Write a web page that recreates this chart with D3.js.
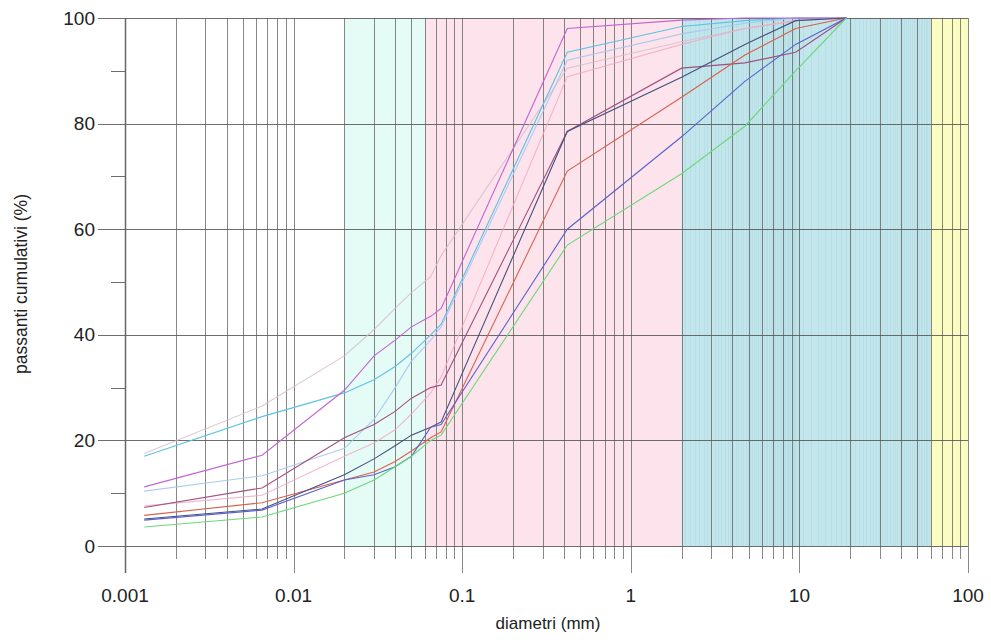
<!DOCTYPE html>
<html>
<head>
<meta charset="utf-8">
<script src="https://cdn.jsdelivr.net/npm/d3@7"></script>
<style>
  body { margin: 0; background: #fff; }
  svg { display: block; font-family: "Liberation Sans", Arial, sans-serif; }
</style>
</head>
<body>
<svg id="chart" width="991" height="642"></svg>
<script>
// sieve / hydrometer diameters (mm)
const diameters = [0.0013, 0.0065, 0.02, 0.03, 0.04, 0.05, 0.065, 0.075, 0.42, 2, 4.75, 9.5, 19];

// passing % per sample
const sampleLight   = [17.5, 26.5, 36, 41, 45, 48, 51, 55, 90.5, 95.5, 98, 99.5, 100];
const sampleCyan    = [17, 24.5, 29, 31.5, 34, 36.5, 40, 42, 93.5, 98.4, 99.5, 100, 100];
const sampleMagenta = [11.2, 17.2, 29.5, 36, 39, 41.5, 43.5, 45, 98, 99.6, 100, 100, 100];
const sampleSky     = [10.4, 13.3, 18.5, 24, 30, 35, 39, 41.5, 92, 97, 99, 100, 100];
const sampleRose    = [7.3, 11, 20.5, 23, 25.5, 28, 30, 30.5, 78.5, 90.5, 91.5, 93.5, 100];
const samplePink    = [7.6, 9.6, 17, 19.5, 22, 25, 29, 32, 88.9, 95, 98, 99.5, 100];
const sampleOrange  = [5.8, 8.2, 12.5, 14, 16, 18, 20.5, 21.6, 71, 85, 93, 98, 100];
const sampleNavy    = [5.1, 7, 13.5, 16.5, 19, 21, 22.5, 23.5, 78.5, 88.8, 95, 99.5, 100];
const sampleBlue    = [4.9, 6.8, 12.5, 13.5, 15, 17, 22.5, 23, 60, 77.5, 88, 95, 100];
const sampleGreen   = [3.6, 5.5, 10, 12.5, 15, 17, 20, 21, 57, 70.5, 79.5, 90, 100];

const series = [
  {values: sampleLight,   color: '#d4bcc8', opacity: 0.8},
  {values: sampleCyan,    color: '#5cc2e6', opacity: 1},
  {values: sampleSky,     color: '#a6c6ee', opacity: 0.9},
  {values: samplePink,    color: '#f2a6c6', opacity: 0.8},
  {values: sampleMagenta, color: '#c264d2', opacity: 1},
  {values: sampleRose,    color: '#a0507e', opacity: 1},
  {values: sampleOrange,  color: '#d8604e', opacity: 1},
  {values: sampleNavy,    color: '#44507e', opacity: 1},
  {values: sampleBlue,    color: '#5a62cc', opacity: 1},
  {values: sampleGreen,   color: '#6cd87a', opacity: 1}
];

// soil fraction bands
const bandFrom  = [0.02, 0.06, 2, 60];
const bandTo    = [0.06, 2, 60, 100];
const bandFill  = ['#e4fbf6', '#fde4ec', '#c3e6ec', '#fbfcc2'];

const yTicks = [0, 20, 40, 60, 80, 100];
const xLabels = [0.001, 0.01, 0.1, 1, 10, 100];

const svg = d3.select('#chart');
const x = d3.scaleLog().domain([0.001, 100]).range([125, 968]);
const y = d3.scaleLinear().domain([0, 100]).range([546, 18]);

// bands
svg.append('g').selectAll('rect')
  .data(bandFrom)
  .join('rect')
  .attr('x', (d, i) => x(d))
  .attr('width', (d, i) => x(bandTo[i]) - x(d))
  .attr('y', y(100))
  .attr('height', y(0) - y(100))
  .attr('fill', (d, i) => bandFill[i]);

// faint stripes in the gravel band
const stripes = [];
for (let d = 2.1; d < 10; d += 0.15) stripes.push(d);
for (let d = 10.5; d < 60; d += 1.2) stripes.push(d);
svg.append('g').selectAll('line')
  .data(stripes)
  .join('line')
  .attr('x1', d => Math.round(x(d)) + 0.5)
  .attr('x2', d => Math.round(x(d)) + 0.5)
  .attr('y1', y(100))
  .attr('y2', y(0))
  .attr('stroke', '#a8d6de')
  .attr('stroke-opacity', 0.45);

// vertical grid + ticks below
const logTicks = [];
for (let e = -3; e < 2; e++) {
  for (let m = 1; m < 10; m++) logTicks.push(m * Math.pow(10, e));
}
logTicks.push(100);
const isDecade = d => Math.abs(Math.log10(d) - Math.round(Math.log10(d))) < 1e-9;

svg.append('g').selectAll('line')
  .data(logTicks)
  .join('line')
  .attr('x1', d => Math.round(x(d)) + 0.5)
  .attr('x2', d => Math.round(x(d)) + 0.5)
  .attr('y1', y(100))
  .attr('y2', d => isDecade(d) ? 573 : 559)
  .attr('stroke', '#555')
  .attr('stroke-opacity', 0.7);

// horizontal grid
const yGrid = d3.range(0, 101, 10);
svg.append('g').selectAll('line')
  .data(yGrid)
  .join('line')
  .attr('x1', d => d % 20 === 0 ? 98 : 111)
  .attr('x2', d => d % 20 === 0 ? 968 : 125)
  .attr('y1', d => Math.round(y(d)) + 0.5)
  .attr('y2', d => Math.round(y(d)) + 0.5)
  .attr('stroke', '#555')
  .attr('stroke-opacity', 0.85);

// left axis line
svg.append('line')
  .attr('x1', 125.5).attr('x2', 125.5)
  .attr('y1', y(100)).attr('y2', 573)
  .attr('stroke', '#666').attr('stroke-width', 1.5);

// curves
const line = d3.line()
  .x((d, i) => x(diameters[i]))
  .y(d => y(d));

svg.append('g').selectAll('path')
  .data(series)
  .join('path')
  .attr('d', s => line(s.values))
  .attr('fill', 'none')
  .attr('stroke', s => s.color)
  .attr('stroke-opacity', s => s.opacity)
  .attr('stroke-width', 1.1);

// labels
svg.append('g').selectAll('text')
  .data(yTicks)
  .join('text')
  .attr('x', 95)
  .attr('y', d => y(d))
  .attr('dy', '0.35em')
  .attr('text-anchor', 'end')
  .attr('font-size', 19)
  .attr('fill', '#222')
  .text(d => d);

svg.append('g').selectAll('text')
  .data(xLabels)
  .join('text')
  .attr('x', d => x(d))
  .attr('y', 602)
  .attr('text-anchor', 'middle')
  .attr('font-size', 19)
  .attr('fill', '#222')
  .text(d => d);

svg.append('text')
  .attr('x', 548)
  .attr('y', 629)
  .attr('text-anchor', 'middle')
  .attr('font-size', 17)
  .attr('fill', '#222')
  .text('diametri (mm)');

svg.append('text')
  .attr('transform', 'translate(27,284) rotate(-90)')
  .attr('text-anchor', 'middle')
  .attr('font-size', 17.5)
  .attr('fill', '#222')
  .text('passanti cumulativi (%)');
</script>
</body>
</html>
